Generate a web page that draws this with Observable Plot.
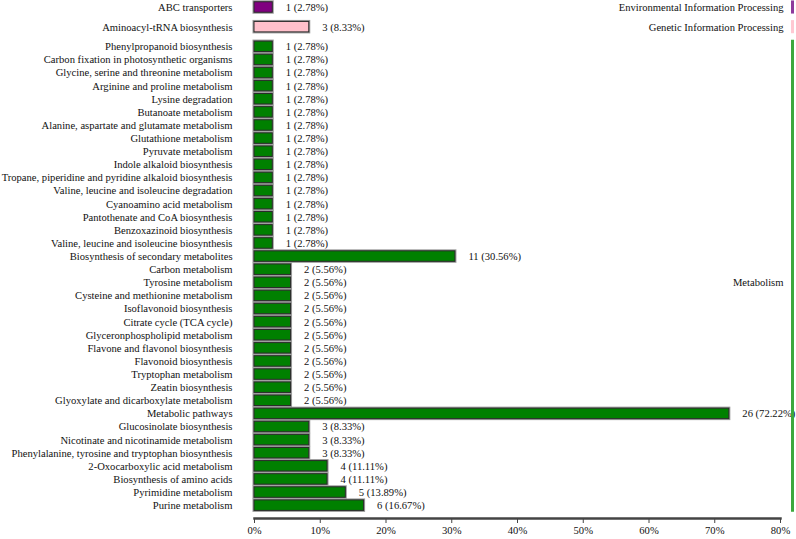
<!DOCTYPE html>
<html><head><meta charset="utf-8">
<script src="https://cdn.jsdelivr.net/npm/d3@7"></script>
<script src="https://cdn.jsdelivr.net/npm/@observablehq/plot@0.6"></script>
<style>
body{margin:0;background:#fff}
</style>
</head><body><div id="chart"></div>
<script>
const groups = ["Environmental Information Processing", "Genetic Information Processing", "Metabolism"];
const groupFill = ["#800080", "#FFC0CB", "#008000"];
const groupLine = ["#8E3A9C", "#FFC8D2", "#3CA83C"];

const pathways = [
  "ABC transporters",
  "Aminoacyl-tRNA biosynthesis",
  "Phenylpropanoid biosynthesis",
  "Carbon fixation in photosynthetic organisms",
  "Glycine, serine and threonine metabolism",
  "Arginine and proline metabolism",
  "Lysine degradation",
  "Butanoate metabolism",
  "Alanine, aspartate and glutamate metabolism",
  "Glutathione metabolism",
  "Pyruvate metabolism",
  "Indole alkaloid biosynthesis",
  "Tropane, piperidine and pyridine alkaloid biosynthesis",
  "Valine, leucine and isoleucine degradation",
  "Cyanoamino acid metabolism",
  "Pantothenate and CoA biosynthesis",
  "Benzoxazinoid biosynthesis",
  "Valine, leucine and isoleucine biosynthesis",
  "Biosynthesis of secondary metabolites",
  "Carbon metabolism",
  "Tyrosine metabolism",
  "Cysteine and methionine metabolism",
  "Isoflavonoid biosynthesis",
  "Citrate cycle (TCA cycle)",
  "Glyceronphospholipid metabolism",
  "Flavone and flavonol biosynthesis",
  "Flavonoid biosynthesis",
  "Tryptophan metabolism",
  "Zeatin biosynthesis",
  "Glyoxylate and dicarboxylate metabolism",
  "Metabolic pathways",
  "Glucosinolate biosynthesis",
  "Nicotinate and nicotinamide metabolism",
  "Phenylalanine, tyrosine and tryptophan biosynthesis",
  "2-Oxocarboxylic acid metabolism",
  "Biosynthesis of amino acids",
  "Pyrimidine metabolism",
  "Purine metabolism"
];
const pathwayGroup = [0, 1,
  2,2,2,2,2,2,2,2,2,2,2,2,2,2,2,2,2,2,2,2,2,2,2,2,2,2,2,2,2,2,2,2,2,2,2,2];
const counts = [1, 3,
  1,1,1,1,1,1,1,1,1,1,1,1,1,1,1,1,
  11,
  2,2,2,2,2,2,2,2,2,2,2,
  26,
  3,3,3,4,4,5,6];
const percents = ["2.78", "8.33",
  "2.78","2.78","2.78","2.78","2.78","2.78","2.78","2.78","2.78","2.78","2.78","2.78","2.78","2.78","2.78","2.78",
  "30.56",
  "5.56","5.56","5.56","5.56","5.56","5.56","5.56","5.56","5.56","5.56","5.56",
  "72.22",
  "8.33","8.33","8.33","11.11","11.11","13.89","16.67"];
const xTicks = [0, 10, 20, 30, 40, 50, 60, 70, 80];

const rows = pathways.map((name, i) => ({
  name, g: pathwayGroup[i], count: counts[i], pct: +percents[i], label: percents[i],
  pos: i + 0.5 * pathwayGroup[i]
}));
const groupRows = groups.map((name, g) => {
  const r = rows.filter(d => d.g === g);
  return {name, g, y1: r[0].pos - 0.5, y2: r[r.length - 1].pos + 0.5, mid: r[Math.floor(r.length / 2)].pos};
});
const H = 0.4;
const FONT = "Liberation Serif";
const FS = 10.6;

const chart = Plot.plot({
  width: 796, height: 539,
  marginLeft: 254, marginRight: 16, marginTop: 0, marginBottom: 21,
  x: {domain: [0, 80], label: null},
  y: {domain: [-0.534, 38.98], reverse: true, axis: null},
  style: {fontFamily: FONT, fontSize: FS + "px", color: "#111", background: "#fff"},
  marks: [
    Plot.rect(rows, {x1: () => 0, x2: "pct", y1: d => d.pos - H, y2: d => d.pos + H,
      fill: "none", stroke: "#9a9a9a", strokeWidth: 3}),
    Plot.rect(rows, {x1: () => 0, x2: "pct", y1: d => d.pos - H, y2: d => d.pos + H,
      fill: d => groupFill[d.g], stroke: "#2a2a2a", strokeWidth: 1}),
    Plot.text(rows, {x: () => 0, y: "pos", text: "name", textAnchor: "end", dx: -22, fill: "#111", fontFamily: FONT, fontSize: FS}),
    Plot.text(rows, {x: "pct", y: "pos", text: d => `${d.count} (${d.label}%)`, textAnchor: "start", dx: 13, fill: "#111", fontFamily: FONT, fontSize: FS}),
    Plot.ruleX(groupRows, {x: () => 80, y1: "y1", y2: "y2", stroke: d => groupLine[d.g], strokeWidth: 3, dx: 12}),
    Plot.text(groupRows, {x: () => 80, y: "mid", text: "name", textAnchor: "end", dx: 3, fill: "#111", fontFamily: FONT, fontSize: FS}),
    Plot.frame({anchor: "bottom", stroke: "#444", strokeWidth: 2.5}),
    Plot.axisX({ticks: xTicks, tickSize: 5, tickPadding: 3, tickFormat: d => d + "%", stroke: "#444", fill: "#111", label: null, fontFamily: FONT, fontSize: FS})
  ]
});
document.getElementById("chart").appendChild(chart);
</script>
</body></html>
